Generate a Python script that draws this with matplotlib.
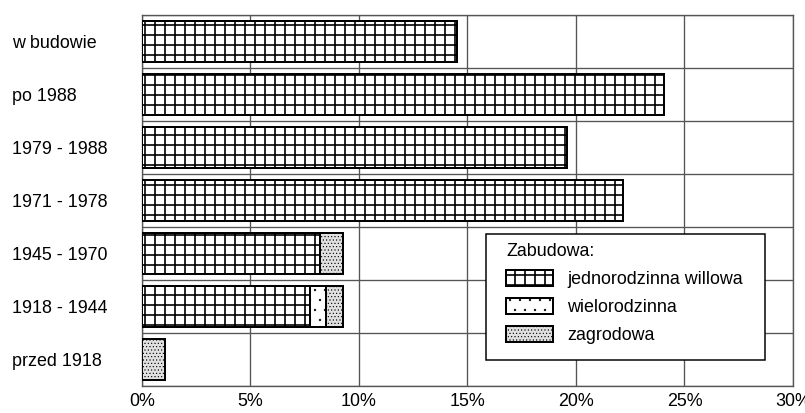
import matplotlib.pyplot as plt
from matplotlib.patches import Rectangle
import numpy as np

plt.rcParams['font.family'] = ['Liberation Sans', 'DejaVu Sans']
plt.rcParams['hatch.linewidth'] = 1.0

# data (% of buildings)
periods = ['w budowie', 'po 1988', '1979 - 1988', '1971 - 1978',
           '1945 - 1970', '1918 - 1944', 'przed 1918']
jednorodzinna = [14.5, 24.05, 19.6, 22.15, 8.2, 7.75, 0]
wielorodzinna = [0, 0, 0, 0, 0, 0.75, 0]
zagrodowa = [0, 0, 0, 0, 1.05, 0.75, 1.05]
xticks = [0, 5, 10, 15, 20, 25, 30]

fs = 10.7
dpi = 120
fig = plt.figure(figsize=(805 / dpi, 413 / dpi), dpi=dpi)
ax = fig.add_axes([142 / 805, 27 / 413, 651 / 805, 371 / 413])

y = np.arange(len(periods))
h = 0.77
left1 = np.array(jednorodzinna)
left2 = left1 + np.array(wielorodzinna)


def thin_hatch(patches, lw):
    for p in patches:
        try:
            p.set_hatch_linewidth(lw)
        except AttributeError:
            p._hatch_linewidth = lw


ax.barh(y, jednorodzinna, height=h, color='white', edgecolor='black',
        hatch='++', linewidth=1.2, label='jednorodzinna willowa', zorder=3)
b2 = ax.barh(y, wielorodzinna, left=left1, height=h, color='white', edgecolor='black',
             hatch='..', linewidth=1.2, label='wielorodzinna', zorder=3)
b3 = ax.barh(y, zagrodowa, left=left2, height=h, color='#e0e0e0', edgecolor='black',
             hatch='......', linewidth=1.2, label='zagrodowa', zorder=3)
thin_hatch(b2, 0.2)
thin_hatch(b3, 0.35)

ax.set_xlim(0, 30)
ax.set_ylim(len(periods) - 0.5, -0.5)
ax.set_xticks(xticks)
ax.set_xticklabels([f'{v}%' for v in xticks])
ax.set_yticks(y)
ax.set_yticklabels(periods, ha='left')
ax.set_yticks(np.arange(len(periods) + 1) - 0.5, minor=True)
ax.tick_params(axis='y', which='both', length=0, pad=78, labelsize=fs)
ax.tick_params(axis='x', length=0, pad=4, labelsize=fs)

ax.grid(axis='x', color='#555555', linewidth=0.8, zorder=0)
ax.grid(axis='y', which='minor', color='#555555', linewidth=0.8, zorder=0)
ax.grid(axis='y', which='major', visible=False)
for s in ax.spines.values():
    s.set_color('#555555')
    s.set_linewidth(0.8)

# legend box drawn separately to get wider side padding than top/bottom
ax.add_patch(Rectangle((0.528, 0.070), 0.429, 0.340, transform=ax.transAxes,
                       facecolor='white', edgecolor='black', linewidth=0.9,
                       zorder=4))
leg = ax.legend(title='Zabudowa:', loc='upper left', bbox_to_anchor=(0.559, 0.386),
                borderaxespad=0, borderpad=0, fontsize=fs, title_fontsize=fs,
                alignment='left', handlelength=2.65, handleheight=1.0,
                handletextpad=0.79, labelspacing=0.56, frameon=False)
leg.set_zorder(5)
thin_hatch(leg.get_patches()[1:2], 0.2)
thin_hatch(leg.get_patches()[2:3], 0.35)

fig.savefig('out.png', dpi=dpi)
